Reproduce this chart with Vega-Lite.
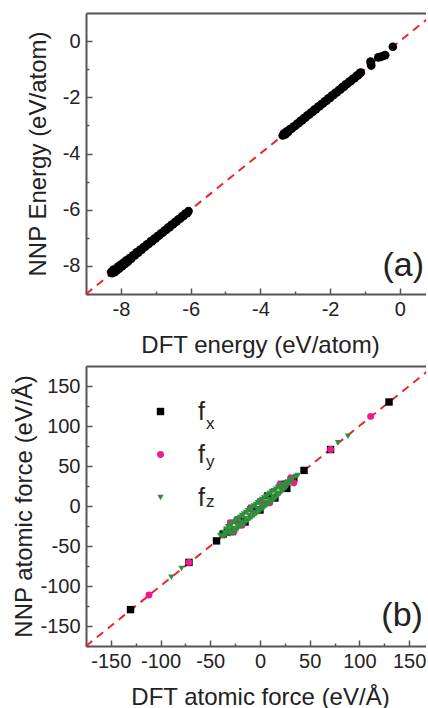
{
  "$schema": "https://vega.github.io/schema/vega-lite/v6.json",
  "padding": {"left": 12, "top": 13, "right": 0, "bottom": 0},
  "bounds": "flush",
  "spacing": 72,
  "config": {
    "view": {"stroke": null},
    "font": "Liberation Sans",
    "axis": {
      "grid": false,
      "domainColor": "#555555",
      "domainWidth": 2,
      "tickColor": "#555555",
      "tickWidth": 1.5,
      "labelFont": "Liberation Sans",
      "labelFontSize": 20,
      "labelColor": "#222222",
      "labelFlush": false,
      "labelOverlap": false,
      "titleFont": "Liberation Sans",
      "titleFontSize": 24,
      "titleFontWeight": "normal",
      "titleColor": "#222222"
    }
  },
  "vconcat": [
    {
      "width": 340,
      "height": 281,
      "resolve": {"axis": {"x": "independent", "y": "independent"}},
      "layer": [
        {
          "data": {"values": [{"v": -9}, {"v": 1}]},
          "mark": {"type": "line", "color": "#e8262a", "strokeWidth": 2, "strokeDash": [8, 6], "clip": true},
          "encoding": {
            "x": {"field": "v", "type": "quantitative", "scale": {"domain": [-9, 0.75], "nice": false, "zero": false},
                  "axis": {"orient": "top", "title": null, "labels": false, "ticks": false, "domain": true}},
            "y": {"field": "v", "type": "quantitative", "scale": {"domain": [-9, 1], "nice": false, "zero": false}, "axis": null}
          }
        },
        {
          "data": {"values": [
            {"dft": -8.28, "nnp": -8.22}, {"dft": -8.25, "nnp": -8.26}, {"dft": -8.22, "nnp": -8.14}, {"dft": -8.18, "nnp": -8.22},
            {"dft": -8.15, "nnp": -8.10}, {"dft": -8.12, "nnp": -8.16}, {"dft": -8.08, "nnp": -8.02}, {"dft": -8.05, "nnp": -8.10},
            {"dft": -8.00, "nnp": -7.95}, {"dft": -7.96, "nnp": -8.01}, {"dft": -7.92, "nnp": -7.88}, {"dft": -7.88, "nnp": -7.93},
            {"dft": -7.84, "nnp": -7.80}, {"dft": -7.80, "nnp": -7.85}, {"dft": -7.75, "nnp": -7.72}, {"dft": -7.70, "nnp": -7.74},
            {"dft": -7.65, "nnp": -7.62}, {"dft": -7.60, "nnp": -7.63}, {"dft": -7.55, "nnp": -7.52}, {"dft": -7.50, "nnp": -7.53},
            {"dft": -7.45, "nnp": -7.43}, {"dft": -7.40, "nnp": -7.42}, {"dft": -7.35, "nnp": -7.33}, {"dft": -7.30, "nnp": -7.32},
            {"dft": -7.25, "nnp": -7.23}, {"dft": -7.20, "nnp": -7.22}, {"dft": -7.15, "nnp": -7.13}, {"dft": -7.10, "nnp": -7.12},
            {"dft": -7.05, "nnp": -7.04}, {"dft": -7.00, "nnp": -7.02}, {"dft": -6.95, "nnp": -6.94}, {"dft": -6.90, "nnp": -6.92},
            {"dft": -6.85, "nnp": -6.84}, {"dft": -6.80, "nnp": -6.82}, {"dft": -6.75, "nnp": -6.74}, {"dft": -6.70, "nnp": -6.72},
            {"dft": -6.65, "nnp": -6.64}, {"dft": -6.60, "nnp": -6.62}, {"dft": -6.55, "nnp": -6.54}, {"dft": -6.50, "nnp": -6.52},
            {"dft": -6.45, "nnp": -6.44}, {"dft": -6.40, "nnp": -6.42}, {"dft": -6.35, "nnp": -6.34}, {"dft": -6.30, "nnp": -6.32},
            {"dft": -6.25, "nnp": -6.24}, {"dft": -6.20, "nnp": -6.22}, {"dft": -6.15, "nnp": -6.14}, {"dft": -6.10, "nnp": -6.12},
            {"dft": -6.06, "nnp": -6.05},
            {"dft": -3.36, "nnp": -3.36}, {"dft": -3.32, "nnp": -3.28}, {"dft": -3.28, "nnp": -3.32}, {"dft": -3.24, "nnp": -3.21},
            {"dft": -3.20, "nnp": -3.23}, {"dft": -3.15, "nnp": -3.13}, {"dft": -3.10, "nnp": -3.12}, {"dft": -3.05, "nnp": -3.04},
            {"dft": -3.00, "nnp": -3.02}, {"dft": -2.95, "nnp": -2.94}, {"dft": -2.90, "nnp": -2.92}, {"dft": -2.85, "nnp": -2.84},
            {"dft": -2.80, "nnp": -2.82}, {"dft": -2.75, "nnp": -2.74}, {"dft": -2.70, "nnp": -2.72}, {"dft": -2.65, "nnp": -2.64},
            {"dft": -2.60, "nnp": -2.62}, {"dft": -2.55, "nnp": -2.54}, {"dft": -2.50, "nnp": -2.52}, {"dft": -2.45, "nnp": -2.44},
            {"dft": -2.40, "nnp": -2.42}, {"dft": -2.35, "nnp": -2.34}, {"dft": -2.30, "nnp": -2.32}, {"dft": -2.25, "nnp": -2.24},
            {"dft": -2.20, "nnp": -2.22}, {"dft": -2.15, "nnp": -2.14}, {"dft": -2.10, "nnp": -2.12}, {"dft": -2.05, "nnp": -2.04},
            {"dft": -2.00, "nnp": -2.02}, {"dft": -1.95, "nnp": -1.94}, {"dft": -1.90, "nnp": -1.92}, {"dft": -1.85, "nnp": -1.84},
            {"dft": -1.80, "nnp": -1.82}, {"dft": -1.75, "nnp": -1.74}, {"dft": -1.70, "nnp": -1.72}, {"dft": -1.65, "nnp": -1.64},
            {"dft": -1.60, "nnp": -1.62}, {"dft": -1.55, "nnp": -1.54}, {"dft": -1.50, "nnp": -1.52}, {"dft": -1.45, "nnp": -1.44},
            {"dft": -1.40, "nnp": -1.42}, {"dft": -1.35, "nnp": -1.34}, {"dft": -1.30, "nnp": -1.32}, {"dft": -1.25, "nnp": -1.24},
            {"dft": -1.20, "nnp": -1.22}, {"dft": -1.15, "nnp": -1.14}, {"dft": -1.12, "nnp": -1.12},
            {"dft": -0.84, "nnp": -0.73}, {"dft": -0.83, "nnp": -0.80}, {"dft": -0.82, "nnp": -0.87},
            {"dft": -0.62, "nnp": -0.58}, {"dft": -0.55, "nnp": -0.56}, {"dft": -0.48, "nnp": -0.53}, {"dft": -0.42, "nnp": -0.50},
            {"dft": -0.20, "nnp": -0.20}
          ]},
          "mark": {"type": "point", "shape": "circle", "filled": true, "color": "#000000", "opacity": 1, "size": 75},
          "encoding": {
            "x": {"field": "dft", "type": "quantitative", "scale": {"domain": [-9, 0.75], "nice": false, "zero": false},
                  "axis": {"orient": "bottom", "title": "DFT energy (eV/atom)", "titleX": 174, "titlePadding": 11,
                           "values": [-9, -8, -7, -6, -5, -4, -3, -2, -1, 0],
                           "labelExpr": "datum.value % 2 === 0 ? '' + datum.value : ''",
                           "tickSize": {"condition": {"test": "datum.value % 2 !== 0", "value": -3}, "value": -6},
                           "labelPadding": 11}},
            "y": {"field": "nnp", "type": "quantitative", "scale": {"domain": [-9, 1], "nice": false, "zero": false},
                  "axis": {"orient": "left", "title": "NNP Energy (eV/atom)", "titlePadding": 12,
                           "values": [-9, -8, -7, -6, -5, -4, -3, -2, -1, 0],
                           "labelExpr": "datum.value % 2 === 0 ? '' + datum.value : ''",
                           "tickSize": {"condition": {"test": "datum.value % 2 !== 0", "value": -3}, "value": -6},
                           "labelPadding": 12}}
          }
        },
        {
          "data": {"values": [{}]},
          "mark": {"type": "text", "fontSize": 34, "font": "Liberation Sans", "align": "center", "baseline": "middle", "color": "#222222"},
          "encoding": {
            "x": {"datum": 0.1, "type": "quantitative", "axis": null},
            "y": {"datum": -8.0, "type": "quantitative", "axis": null},
            "text": {"value": "(a)"}
          }
        }
      ]
    },
    {
      "width": 340,
      "height": 280,
      "resolve": {"axis": {"x": "independent", "y": "independent"}},
      "layer": [
        {
          "data": {"values": [{"v": -175}, {"v": 175}]},
          "mark": {"type": "line", "color": "#e8262a", "strokeWidth": 2, "strokeDash": [8, 6], "clip": true},
          "encoding": {
            "x": {"field": "v", "type": "quantitative", "scale": {"domain": [-175, 167], "nice": false, "zero": false},
                  "axis": {"orient": "top", "title": null, "labels": false, "ticks": false, "domain": true}},
            "y": {"field": "v", "type": "quantitative", "scale": {"domain": [-175, 175], "nice": false, "zero": false}, "axis": null}
          }
        },
        {
          "data": {"values": [
            {"c": "fx", "dft": -130.2, "nnp": -129.5}, {"c": "fx", "dft": 129.8, "nnp": 130}, {"c": "fx", "dft": 71, "nnp": 70.6},
            {"c": "fx", "dft": -71.4, "nnp": -70.5}, {"c": "fx", "dft": 44.3, "nnp": 44.5}, {"c": "fx", "dft": -43.7, "nnp": -43.6},
            {"c": "fx", "dft": -32.9, "nnp": -32.4}, {"c": "fx", "dft": -37, "nnp": -35}, {"c": "fx", "dft": -28, "nnp": -32},
            {"c": "fx", "dft": -22, "nnp": -18}, {"c": "fx", "dft": -15, "nnp": -20}, {"c": "fx", "dft": -8, "nnp": -3},
            {"c": "fx", "dft": 0, "nnp": -5}, {"c": "fx", "dft": 8, "nnp": 13}, {"c": "fx", "dft": 15, "nnp": 10},
            {"c": "fx", "dft": 22, "nnp": 27}, {"c": "fx", "dft": 27, "nnp": 22}, {"c": "fx", "dft": 34, "nnp": 34},
            {"c": "fy", "dft": -111.7, "nnp": -111.2}, {"c": "fy", "dft": 111.3, "nnp": 112}, {"c": "fy", "dft": 71, "nnp": 70.6},
            {"c": "fy", "dft": -71.4, "nnp": -70.5}, {"c": "fy", "dft": -30, "nnp": -21}, {"c": "fy", "dft": -23, "nnp": -17},
            {"c": "fy", "dft": -26, "nnp": -32}, {"c": "fy", "dft": -18, "nnp": -24}, {"c": "fy", "dft": -10, "nnp": -3},
            {"c": "fy", "dft": 0, "nnp": 6}, {"c": "fy", "dft": 10, "nnp": 4}, {"c": "fy", "dft": 20, "nnp": 27},
            {"c": "fy", "dft": 24.8, "nnp": 24.6}, {"c": "fy", "dft": 30.9, "nnp": 35.5}, {"c": "fy", "dft": 34, "nnp": 29},
            {"c": "fz", "dft": -89.2, "nnp": -89.2}, {"c": "fz", "dft": -78.9, "nnp": -78}, {"c": "fz", "dft": 78.5, "nnp": 79},
            {"c": "fz", "dft": 88.5, "nnp": 87.2},
            {"c": "fz", "dft": -40, "nnp": -37}, {"c": "fz", "dft": -38, "nnp": -38}, {"c": "fz", "dft": -36, "nnp": -33},
            {"c": "fz", "dft": -36, "nnp": -38}, {"c": "fz", "dft": -34, "nnp": -29}, {"c": "fz", "dft": -34, "nnp": -35},
            {"c": "fz", "dft": -32, "nnp": -26}, {"c": "fz", "dft": -32, "nnp": -33}, {"c": "fz", "dft": -31, "nnp": -30},
            {"c": "fz", "dft": -30, "nnp": -24}, {"c": "fz", "dft": -30, "nnp": -35}, {"c": "fz", "dft": -28, "nnp": -22},
            {"c": "fz", "dft": -28, "nnp": -34}, {"c": "fz", "dft": -27, "nnp": -28}, {"c": "fz", "dft": -26, "nnp": -20},
            {"c": "fz", "dft": -26, "nnp": -32}, {"c": "fz", "dft": -24, "nnp": -18}, {"c": "fz", "dft": -24, "nnp": -30},
            {"c": "fz", "dft": -23, "nnp": -24}, {"c": "fz", "dft": -22, "nnp": -16}, {"c": "fz", "dft": -22, "nnp": -28},
            {"c": "fz", "dft": -20, "nnp": -14}, {"c": "fz", "dft": -20, "nnp": -26}, {"c": "fz", "dft": -19, "nnp": -20},
            {"c": "fz", "dft": -18, "nnp": -12}, {"c": "fz", "dft": -18, "nnp": -24}, {"c": "fz", "dft": -16, "nnp": -10},
            {"c": "fz", "dft": -16, "nnp": -22}, {"c": "fz", "dft": -15, "nnp": -16}, {"c": "fz", "dft": -14, "nnp": -8},
            {"c": "fz", "dft": -14, "nnp": -20}, {"c": "fz", "dft": -12, "nnp": -6}, {"c": "fz", "dft": -12, "nnp": -18},
            {"c": "fz", "dft": -11, "nnp": -12}, {"c": "fz", "dft": -10, "nnp": -4}, {"c": "fz", "dft": -10, "nnp": -16},
            {"c": "fz", "dft": -8, "nnp": -2}, {"c": "fz", "dft": -8, "nnp": -14}, {"c": "fz", "dft": -7, "nnp": -8},
            {"c": "fz", "dft": -6, "nnp": 0}, {"c": "fz", "dft": -6, "nnp": -12}, {"c": "fz", "dft": -4, "nnp": 2},
            {"c": "fz", "dft": -4, "nnp": -10}, {"c": "fz", "dft": -3, "nnp": -4}, {"c": "fz", "dft": -2, "nnp": 4},
            {"c": "fz", "dft": -2, "nnp": -8}, {"c": "fz", "dft": 0, "nnp": 6}, {"c": "fz", "dft": 0, "nnp": -6},
            {"c": "fz", "dft": 1, "nnp": 0}, {"c": "fz", "dft": 2, "nnp": 8}, {"c": "fz", "dft": 2, "nnp": -4},
            {"c": "fz", "dft": 4, "nnp": 10}, {"c": "fz", "dft": 4, "nnp": -2}, {"c": "fz", "dft": 5, "nnp": 4},
            {"c": "fz", "dft": 6, "nnp": 12}, {"c": "fz", "dft": 6, "nnp": 0}, {"c": "fz", "dft": 8, "nnp": 14},
            {"c": "fz", "dft": 8, "nnp": 2}, {"c": "fz", "dft": 9, "nnp": 8}, {"c": "fz", "dft": 10, "nnp": 16},
            {"c": "fz", "dft": 10, "nnp": 4}, {"c": "fz", "dft": 12, "nnp": 18}, {"c": "fz", "dft": 12, "nnp": 6},
            {"c": "fz", "dft": 13, "nnp": 12}, {"c": "fz", "dft": 14, "nnp": 19}, {"c": "fz", "dft": 14, "nnp": 8},
            {"c": "fz", "dft": 16, "nnp": 21}, {"c": "fz", "dft": 16, "nnp": 10}, {"c": "fz", "dft": 17, "nnp": 16},
            {"c": "fz", "dft": 18, "nnp": 23}, {"c": "fz", "dft": 18, "nnp": 13}, {"c": "fz", "dft": 20, "nnp": 24},
            {"c": "fz", "dft": 20, "nnp": 15}, {"c": "fz", "dft": 21, "nnp": 20}, {"c": "fz", "dft": 22, "nnp": 26},
            {"c": "fz", "dft": 22, "nnp": 18}, {"c": "fz", "dft": 24, "nnp": 27}, {"c": "fz", "dft": 24, "nnp": 20},
            {"c": "fz", "dft": 25, "nnp": 25}, {"c": "fz", "dft": 26, "nnp": 29}, {"c": "fz", "dft": 26, "nnp": 23},
            {"c": "fz", "dft": 28, "nnp": 30}, {"c": "fz", "dft": 28, "nnp": 26}, {"c": "fz", "dft": 29, "nnp": 29},
            {"c": "fz", "dft": 30, "nnp": 32}, {"c": "fz", "dft": 31, "nnp": 30}, {"c": "fz", "dft": 33, "nnp": 34},
            {"c": "fz", "dft": 36, "nnp": 37}, {"c": "fz", "dft": 38, "nnp": 38}
          ]},
          "mark": {"type": "point", "filled": true, "opacity": 1},
          "encoding": {
            "x": {"field": "dft", "type": "quantitative", "scale": {"domain": [-175, 167], "nice": false, "zero": false},
                  "axis": {"orient": "bottom", "title": "DFT atomic force (eV/Å)", "titleX": 174, "titlePadding": 11,
                           "values": [-175, -150, -125, -100, -75, -50, -25, 0, 25, 50, 75, 100, 125, 150],
                           "labelExpr": "datum.value % 50 === 0 ? '' + datum.value : ''",
                           "tickSize": {"condition": {"test": "datum.value % 50 !== 0", "value": -3}, "value": -6},
                           "labelPadding": 11}},
            "y": {"field": "nnp", "type": "quantitative", "scale": {"domain": [-175, 175], "nice": false, "zero": false},
                  "axis": {"orient": "left", "title": "NNP atomic force (eV/Å)", "titlePadding": 3,
                           "values": [-175, -150, -125, -100, -75, -50, -25, 0, 25, 50, 75, 100, 125, 150],
                           "labelExpr": "datum.value % 50 === 0 ? '' + datum.value : ''",
                           "tickSize": {"condition": {"test": "datum.value % 50 !== 0", "value": -3}, "value": -6},
                           "labelPadding": 12}},
            "color": {"field": "c", "type": "nominal",
                      "scale": {"domain": ["fx", "fy", "fz"], "range": ["#000000", "#ec1c8c", "#2f8f3c"]},
                      "legend": {"orient": "none", "legendX": 62, "legendY": 386, "title": null, "padding": 0,
                                 "labelExpr": "'f'", "labelFont": "Liberation Sans", "labelFontSize": 25, "labelColor": "#222222",
                                 "symbolSize": 30, "symbolStrokeWidth": 0, "rowPadding": 17, "labelOffset": 25}},
            "shape": {"field": "c", "type": "nominal",
                      "scale": {"domain": ["fx", "fy", "fz"], "range": ["square", "circle", "triangle-down"]},
                      "legend": {"orient": "none", "legendX": 62, "legendY": 386, "title": null, "padding": 0,
                                 "labelExpr": "'f'", "labelFont": "Liberation Sans", "labelFontSize": 25, "labelColor": "#222222",
                                 "symbolSize": 30, "symbolStrokeWidth": 0, "rowPadding": 17, "labelOffset": 25}},
            "size": {"field": "c", "type": "ordinal",
                     "scale": {"domain": ["fx", "fy", "fz"], "range": [55, 40, 55]}, "legend": null}
          }
        },
        {
          "data": {"values": [{}]},
          "mark": {"type": "text", "fontSize": 34, "font": "Liberation Sans", "align": "center", "baseline": "middle", "color": "#222222"},
          "encoding": {
            "x": {"datum": 143, "type": "quantitative", "axis": null},
            "y": {"datum": -137, "type": "quantitative", "axis": null},
            "text": {"value": "(b)"}
          }
        },
        {
          "data": {"values": [{}]},
          "mark": {"type": "text", "fontSize": 17, "font": "Liberation Sans", "align": "center", "baseline": "alphabetic", "color": "#222222"},
          "encoding": {
            "x": {"datum": -50, "type": "quantitative", "axis": null},
            "y": {"datum": 96.8, "type": "quantitative", "axis": null},
            "text": {"value": "x"}
          }
        },
        {
          "data": {"values": [{}]},
          "mark": {"type": "text", "fontSize": 17, "font": "Liberation Sans", "align": "center", "baseline": "alphabetic", "color": "#222222"},
          "encoding": {
            "x": {"datum": -50, "type": "quantitative", "axis": null},
            "y": {"datum": 48.2, "type": "quantitative", "axis": null},
            "text": {"value": "y"}
          }
        },
        {
          "data": {"values": [{}]},
          "mark": {"type": "text", "fontSize": 17, "font": "Liberation Sans", "align": "center", "baseline": "alphabetic", "color": "#222222"},
          "encoding": {
            "x": {"datum": -50, "type": "quantitative", "axis": null},
            "y": {"datum": -1.6, "type": "quantitative", "axis": null},
            "text": {"value": "z"}
          }
        }
      ]
    }
  ]
}
